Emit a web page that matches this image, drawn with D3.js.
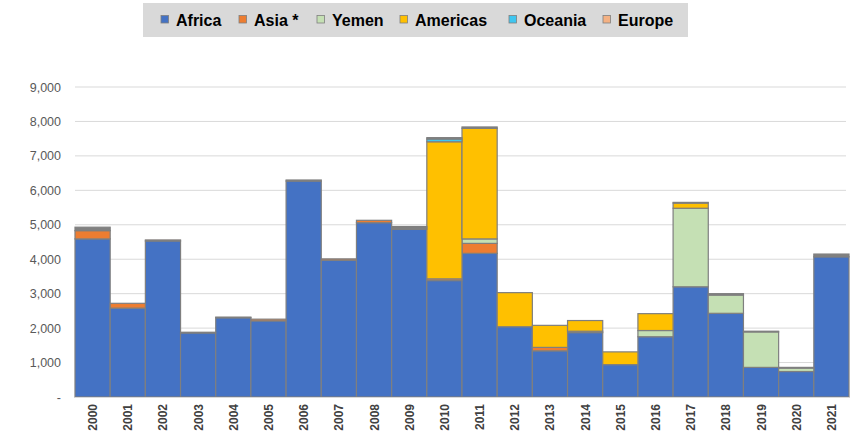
<!DOCTYPE html>
<html>
<head>
<meta charset="utf-8">
<script src="https://cdn.jsdelivr.net/npm/d3@7"></script>
<style>
  body { margin: 0; background: #fff; }
  svg { font-family: "Liberation Sans", Arial, sans-serif; }
</style>
</head>
<body>
<svg id="chart" width="856" height="436"></svg>
<script>
var years = ["2000","2001","2002","2003","2004","2005","2006","2007","2008","2009","2010",
             "2011","2012","2013","2014","2015","2016","2017","2018","2019","2020","2021"];

var africa   = [4590,2580,4530,1860,2300,2210,6270,3970,5060,4870,3380,4170,2040,1340,1870,940,1750,3200,2430,860,740,4070];
var asia     = [240,140,30,20,20,50,0,40,70,0,50,290,0,100,40,0,0,0,0,0,0,0];
var yemen    = [0,0,0,0,0,0,0,0,0,0,0,130,0,0,0,0,180,2280,530,1030,100,0];
var americas = [0,0,0,0,0,0,0,0,0,0,3980,3210,990,640,310,370,490,150,0,0,0,0];
var oceania  = [0,0,0,0,0,0,0,0,0,0,80,0,0,0,0,0,0,0,0,0,0,0];
var europe   = [0,0,0,0,0,0,30,0,0,0,0,0,0,0,0,0,0,0,0,0,0,0];
var other    = [100,0,0,0,0,0,0,0,0,80,40,40,0,0,0,0,0,20,40,20,20,80]; // not in legend

var yTicks = [0,1000,2000,3000,4000,5000,6000,7000,8000,9000];

var seriesNames = ["Africa","Asia *","Yemen","Americas","Oceania","Europe","Other"];
var seriesData  = [africa, asia, yemen, americas, oceania, europe, other];
var colors      = ["#4472C4","#ED7D31","#C5E0B4","#FFC000","#3FC6F0","#F4B183","#808080"];

var svg = d3.select("#chart");

var table = years.map(function(y, i) {
  var row = { year: y };
  seriesNames.forEach(function(n, k) { row[n] = seriesData[k][i]; });
  return row;
});

var x = d3.scaleBand().domain(years).range([75, 849]).padding(0);
var y = d3.scaleLinear().domain([0, 9000]).range([397, 87]);

// gridlines
svg.append("g")
  .selectAll("line")
  .data(yTicks.slice(1))
  .enter()
  .append("line")
    .attr("x1", 75)
    .attr("x2", 846)
    .attr("y1", d => y(d))
    .attr("y2", d => y(d))
    .attr("stroke", "#d9d9d9")
    .attr("stroke-width", 1);

// y axis labels
var yAxis = svg.append("g")
  .attr("transform", "translate(61,0)")
  .call(d3.axisLeft(y).tickValues(yTicks).tickSize(0).tickPadding(0)
          .tickFormat(d => d === 0 ? "-" : d3.format(",")(d)));
yAxis.select(".domain").remove();
yAxis.selectAll("text")
  .style("font-size", "12.5px")
  .style("fill", "#595959")
  .attr("font-family", "Liberation Sans, Arial, sans-serif");

// stacked bars
var stack = d3.stack().keys(seriesNames);
var layers = svg.append("g")
  .selectAll("g")
  .data(stack(table))
  .enter()
  .append("g")
    .attr("fill", (d, i) => colors[i]);

layers.selectAll("rect")
  .data(d => d.filter(s => s[1] - s[0] > 0))
  .enter()
  .append("rect")
    .attr("x", d => x(d.data.year))
    .attr("width", x.bandwidth())
    .attr("y", d => y(d[1]))
    .attr("height", d => y(d[0]) - y(d[1]))
    .attr("stroke", "#7f7f7f")
    .attr("stroke-width", 1.2);

// x axis
svg.append("line")
  .attr("x1", 75).attr("x2", 849)
  .attr("y1", 397.5).attr("y2", 397.5)
  .attr("stroke", "#d9d9d9");

svg.append("g")
  .selectAll("text")
  .data(years)
  .enter()
  .append("text")
    .attr("transform", d => "translate(" + (x(d) + x.bandwidth() / 2 + 4.5) + ",404) rotate(-90)")
    .style("text-anchor", "end")
    .style("font-size", "12px")
    .style("font-weight", "bold")
    .style("fill", "#404040")
    .text(d => d);

// legend
var legend = svg.append("g");
legend.append("rect")
  .attr("x", 143).attr("y", 3)
  .attr("width", 545).attr("height", 34)
  .attr("fill", "#d9d9d9");

var legendX = [161, 239, 317, 400, 509, 603];
var legendItems = legend.selectAll(".item")
  .data(seriesNames.slice(0, 6))
  .enter()
  .append("g")
    .attr("transform", (d, i) => "translate(" + legendX[i] + ",0)");

legendItems.append("rect")
  .attr("x", 0).attr("y", 15.5)
  .attr("width", 7.5).attr("height", 7.5)
  .attr("fill", (d, i) => colors[i])
  .attr("stroke", "#7f7f7f")
  .attr("stroke-width", 0.8);

legendItems.append("text")
  .attr("x", 15).attr("y", 25.5)
  .style("font-size", "16px")
  .style("font-weight", "bold")
  .style("fill", "#000")
  .text(d => d);
</script>
</body>
</html>
